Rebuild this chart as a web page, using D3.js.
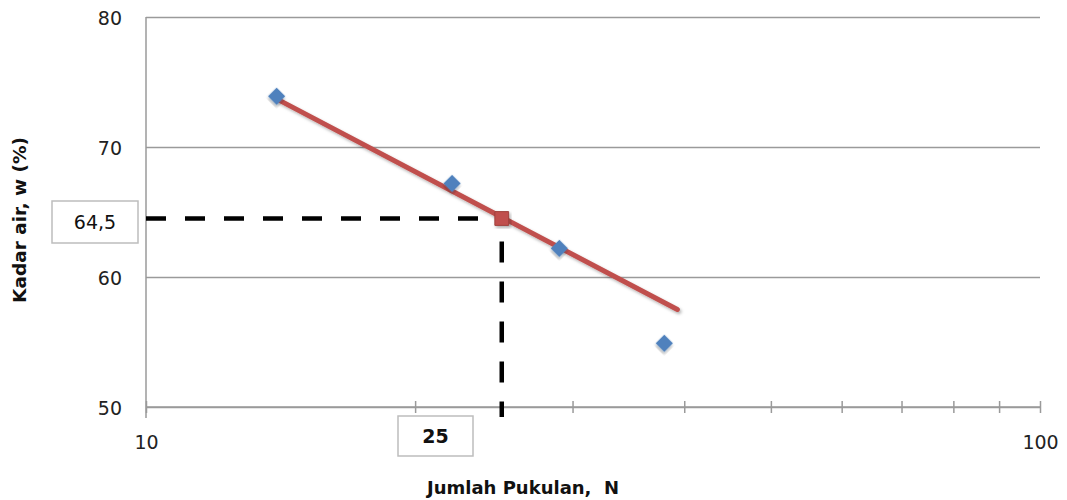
<!DOCTYPE html>
<html>
<head>
<meta charset="utf-8">
<script src="https://cdn.jsdelivr.net/npm/d3@7"></script>
<style>
  html, body { margin: 0; padding: 0; background: #fff; }
  svg { display: block; }
  text { font-family: "DejaVu Sans", Verdana, sans-serif; }
</style>
</head>
<body>
<svg id="chart" width="1067" height="500"></svg>
<script>
// Jumlah pukulan (N) and kadar air (w, %) for each test
const blowsN = [14, 22, 29, 38];
const waterContent = [73.9, 67.2, 62.2, 54.9];

// Trend line end points (N, w)
const trendN = [14, 39.3];
const trendW = [73.7, 57.5];

// Liquid limit read at 25 blows
const limitN = 25;
const limitW = 64.5;

// Axis ticks
const yTicks = [50, 60, 70, 80];
const xTicks = [10, 20, 30, 40, 50, 60, 70, 80, 90, 100];
const xTickLabels = [10, 100];

(function drawChart() {
  const svg = d3.select("#chart");
  const plotLeft = 146, plotRight = 1040, plotTop = 17, plotBottom = 407;

  const x = d3.scaleLog().domain([10, 100]).range([plotLeft, plotRight]);
  const y = d3.scaleLinear().domain([50, 80]).range([plotBottom, plotTop]);

  const defs = svg.append("defs");
  const shadow = defs.append("filter").attr("id", "shadow")
    .attr("x", "-20%").attr("y", "-20%").attr("width", "140%").attr("height", "140%");
  shadow.append("feDropShadow")
    .attr("dx", 1.5).attr("dy", 2).attr("stdDeviation", 1.4)
    .attr("flood-color", "#000").attr("flood-opacity", 0.3);

  // Horizontal gridlines and y tick labels
  const yAxis = d3.axisLeft(y)
    .tickValues(yTicks)
    .tickSize(-(plotRight - plotLeft))
    .tickPadding(24)
    .tickFormat(d3.format("d"));
  const gy = svg.append("g").attr("transform", `translate(${plotLeft},0)`).call(yAxis);
  gy.select(".domain").remove();
  gy.selectAll(".tick line").attr("stroke", "#9a9a9a").attr("stroke-width", 1.5);
  gy.selectAll(".tick text")
    .attr("fill", "#222").attr("font-size", 19)
    .attr("dy", "0.4em");

  // Left axis line
  svg.append("line")
    .attr("x1", plotLeft).attr("x2", plotLeft)
    .attr("y1", plotTop).attr("y2", plotBottom + 11)
    .attr("stroke", "#9a9a9a").attr("stroke-width", 1.5);

  // Bottom (log) axis with crossing tick marks
  const xAxis = d3.axisBottom(x)
    .tickValues(xTicks)
    .tickSize(6)
    .tickFormat(d => xTickLabels.includes(d) ? String(d) : "");
  const gx = svg.append("g").attr("transform", `translate(0,${plotBottom})`).call(xAxis);
  gx.select(".domain").attr("stroke", "#9a9a9a").attr("stroke-width", 1.5)
    .attr("d", `M${plotLeft},0H${plotRight}`);
  gx.selectAll(".tick line")
    .attr("stroke", "#9a9a9a").attr("stroke-width", 1.5)
    .attr("y1", -6).attr("y2", 6);
  gx.selectAll(".tick text")
    .attr("fill", "#222").attr("font-size", 19)
    .attr("y", 35).attr("dy", "0.35em");

  // Dashed reading lines at the liquid limit
  svg.append("line")
    .attr("x1", x(10)).attr("x2", x(limitN))
    .attr("y1", y(limitW)).attr("y2", y(limitW))
    .attr("stroke", "#000").attr("stroke-width", 4.5)
    .attr("stroke-dasharray", "20,19");
  svg.append("line")
    .attr("x1", x(limitN)).attr("x2", x(limitN))
    .attr("y1", y(limitW)).attr("y2", plotBottom + 10)
    .attr("stroke", "#000").attr("stroke-width", 4.5)
    .attr("stroke-dasharray", "21,19")
    .attr("stroke-dashoffset", 17);

  // Trend line
  const trend = trendN.map((n, i) => [n, trendW[i]]);
  svg.append("path")
    .datum(trend)
    .attr("d", d3.line().x(d => x(d[0])).y(d => y(d[1])))
    .attr("fill", "none")
    .attr("stroke", "#C0504D").attr("stroke-width", 5)
    .attr("stroke-linecap", "round")
    .attr("filter", "url(#shadow)");

  // Test points (diamonds)
  const points = blowsN.map((n, i) => [n, waterContent[i]]);
  svg.append("g").selectAll("path")
    .data(points)
    .join("path")
    .attr("d", d3.symbol(d3.symbolSquare, 150)())
    .attr("transform", d => `translate(${x(d[0])},${y(d[1])}) rotate(45)`)
    .attr("fill", "#4F81BD")
    .attr("filter", "url(#shadow)");

  // Liquid limit marker
  svg.append("path")
    .attr("d", d3.symbol(d3.symbolSquare, 190)())
    .attr("transform", `translate(${x(limitN)},${y(limitW)})`)
    .attr("fill", "#C0504D")
    .attr("stroke", "#A0403D").attr("stroke-width", 1)
    .attr("filter", "url(#shadow)");

  // Value boxes
  function valueBox(cx, cy, w, h, label, bold) {
    svg.append("rect")
      .attr("x", cx - w / 2).attr("y", cy - h / 2)
      .attr("width", w).attr("height", h)
      .attr("fill", "#fff").attr("stroke", "#bdbdbd").attr("stroke-width", 1.5);
    svg.append("text")
      .attr("x", cx).attr("y", cy)
      .attr("text-anchor", "middle").attr("dy", "0.36em")
      .attr("font-size", 19)
      .attr("font-weight", bold ? "bold" : "normal")
      .attr("fill", "#111")
      .text(label);
  }
  valueBox(95, 222, 86, 42, String(limitW).replace(".", ","), false);
  valueBox(435.5, 436, 75, 40, String(limitN), true);

  // Axis titles
  svg.append("text")
    .attr("x", 427).attr("y", 488)
    .attr("dy", "0.35em")
    .attr("font-size", 18).attr("font-weight", "bold").attr("fill", "#111")
    .style("white-space", "pre")
    .text("Jumlah Pukulan,  N");

  svg.append("text")
    .attr("transform", "translate(20,220) rotate(-90)")
    .attr("text-anchor", "middle").attr("dy", "0.35em")
    .attr("font-size", 18.5).attr("font-weight", "bold").attr("fill", "#111")
    .text("Kadar air, w (%)");
})();
</script>
</body>
</html>
